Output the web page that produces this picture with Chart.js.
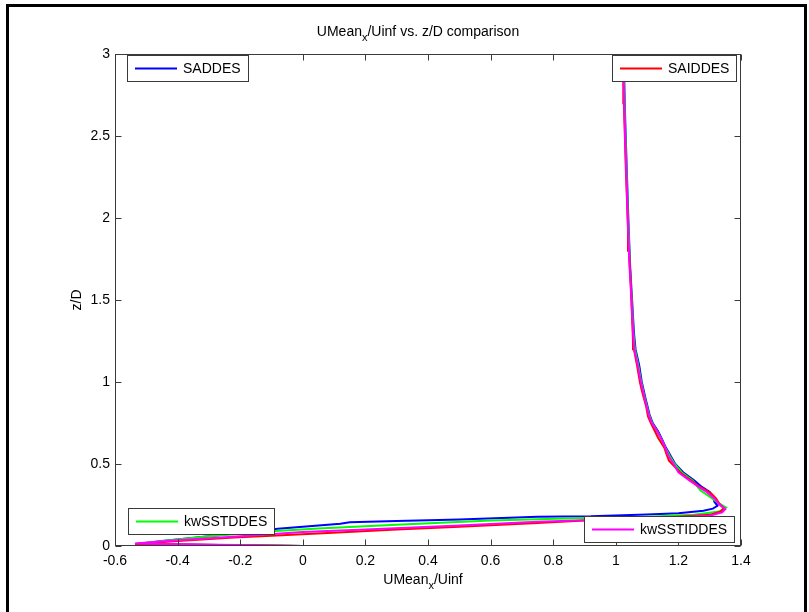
<!DOCTYPE html>
<html>
<head>
<meta charset="utf-8">
<script src="https://cdn.jsdelivr.net/npm/chart.js"></script>
<style>
    html, body { margin: 0; padding: 0; background: #fff; }
    #wrap { position: relative; width: 809px; height: 612px; overflow: hidden; }
    #frame { position: absolute; left: 6px; top: 4px; width: 795px; height: 640px; border: 3px solid #000; box-sizing: content-box; }
    canvas { position: absolute; left: 0; top: 0; }
</style>
</head>
<body>
<div id="wrap">
    <div id="frame"></div>
    <canvas id="chart1" width="809" height="612"></canvas>
</div>
<script>
// tick labels
const xTicks = [-0.6, -0.4, -0.2, 0, 0.2, 0.4, 0.6, 0.8, 1, 1.2, 1.4];
const yTicks = [0, 0.5, 1, 1.5, 2, 2.5, 3];

const seriesNames = ['SADDES', 'SAIDDES', 'kwSSTDDES', 'kwSSTIDDES'];

// SADDES (blue)
const uSADDES = [0, -0.536, -0.45, -0.3, -0.15, -0.08, 0.05, 0.12, 0.15, 0.3, 0.5, 0.75, 0.92, 1.1, 1.2, 1.28, 1.31, 1.325, 1.315, 1.31, 1.3, 1.275, 1.25, 1.215, 1.19, 1.175, 1.16, 1.148, 1.135, 1.118, 1.108, 1.095, 1.083, 1.075, 1.063, 1.058, 1.052, 1.046, 1.04, 1.035, 1.03, 1.025];
const zSADDES = [0, 0.01, 0.03, 0.06, 0.09, 0.105, 0.125, 0.135, 0.145, 0.152, 0.162, 0.178, 0.181, 0.192, 0.2, 0.215, 0.228, 0.245, 0.27, 0.3, 0.33, 0.36, 0.4, 0.45, 0.5, 0.55, 0.6, 0.65, 0.7, 0.75, 0.8, 0.9, 1.0, 1.1, 1.2, 1.3, 1.5, 1.7, 2.0, 2.3, 2.6, 3.0];

// SAIDDES (red)
const uSAIDDES = [0, -0.536, -0.4, -0.22, -0.1, 0.08, 0.3, 0.5, 0.75, 0.9, 1.0, 1.2, 1.3, 1.335, 1.345, 1.33, 1.32, 1.305, 1.28, 1.26, 1.24, 1.225, 1.205, 1.19, 1.17, 1.162, 1.155, 1.145, 1.135, 1.125, 1.112, 1.103, 1.097, 1.09, 1.083, 1.077, 1.068, 1.058, 1.055, 1.054, 1.051, 1.048, 1.042, 1.039, 1.036, 1.032, 1.029, 1.026, 1.024, 1.023];
const zSAIDDES = [0, 0.012, 0.03, 0.052, 0.062, 0.079, 0.1, 0.118, 0.14, 0.155, 0.162, 0.178, 0.19, 0.21, 0.23, 0.26, 0.29, 0.32, 0.35, 0.37, 0.4, 0.42, 0.45, 0.48, 0.52, 0.56, 0.6, 0.63, 0.66, 0.7, 0.75, 0.79, 0.85, 0.9, 0.95, 1.0, 1.1, 1.2, 1.24, 1.3, 1.44, 1.6, 1.8, 1.93, 2.1, 2.3, 2.5, 2.7, 2.9, 3.0];

// kwSSTDDES (green)
const uKwSSTDDES = [0, -0.536, -0.4, -0.3, -0.1, 0.05, 0.3, 0.6, 0.9, 1.1, 1.25, 1.33, 1.352, 1.33, 1.3, 1.27, 1.245, 1.21, 1.188, 1.172, 1.158, 1.146, 1.132, 1.116, 1.106, 1.093, 1.081, 1.072, 1.061, 1.056, 1.051, 1.045, 1.039, 1.034, 1.029, 1.024];
const zKwSSTDDES = [0, 0.012, 0.04, 0.06, 0.09, 0.107, 0.13, 0.155, 0.17, 0.178, 0.19, 0.21, 0.235, 0.26, 0.3, 0.34, 0.4, 0.45, 0.5, 0.55, 0.6, 0.65, 0.7, 0.75, 0.8, 0.9, 1.0, 1.1, 1.2, 1.3, 1.5, 1.7, 2.0, 2.3, 2.6, 3.0];

// kwSSTIDDES (magenta)
const uKwSSTIDDES = [0, -0.536, -0.4, -0.2, 0.0, 0.2, 0.5, 0.75, 0.95, 1.15, 1.3, 1.34, 1.35, 1.33, 1.315, 1.29, 1.265, 1.235, 1.2, 1.185, 1.168, 1.158, 1.146, 1.132, 1.115, 1.105, 1.092, 1.08, 1.07, 1.059, 1.055, 1.05, 1.044, 1.038, 1.033, 1.028, 1.023];
const zKwSSTIDDES = [0, 0.015, 0.035, 0.06, 0.085, 0.1, 0.125, 0.148, 0.16, 0.172, 0.185, 0.205, 0.225, 0.255, 0.29, 0.33, 0.36, 0.4, 0.45, 0.5, 0.55, 0.6, 0.65, 0.7, 0.75, 0.8, 0.9, 1.0, 1.1, 1.2, 1.3, 1.5, 1.7, 2.0, 2.3, 2.6, 3.0];

(function() {
    const FONT = '"Liberation Sans", Arial, Helvetica, sans-serif';
    const AXIS_COLOR = '#3a3a3a';
    const FONT_SIZE = 14;

    function toPoints(u, z) {
        return u.map((v, i) => ({ x: v, y: z[i] }));
    }

    function makeDataset(label, u, z, color) {
        return {
            label,
            data: toPoints(u, z),
            showLine: true,
            borderColor: color,
            backgroundColor: color,
            borderWidth: 2,
            pointRadius: 0,
            tension: 0
        };
    }

    // text with a subscript part, centred on cx
    function drawSubText(ctx, parts, cx, baseline, size) {
        ctx.save();
        ctx.textBaseline = 'alphabetic';
        ctx.textAlign = 'left';
        const mainFont = size + 'px ' + FONT;
        const subFont = (size - 3) + 'px ' + FONT;
        let total = 0;
        parts.forEach(p => {
            ctx.font = p.sub ? subFont : mainFont;
            total += ctx.measureText(p.text).width;
        });
        let x = cx - total / 2;
        parts.forEach(p => {
            ctx.font = p.sub ? subFont : mainFont;
            ctx.fillText(p.text, x, p.sub ? baseline + 5 : baseline);
            x += ctx.measureText(p.text).width;
        });
        ctx.restore();
    }

    function drawLegendBox(ctx, ds, x, y, anchorRight) {
        ctx.save();
        ctx.font = FONT_SIZE + 'px ' + FONT;
        const textW = ctx.measureText(ds.label).width;
        const w = Math.round(56 + textW + 7);
        const h = 26;
        const left = Math.round(anchorRight ? x - w : x);
        ctx.fillStyle = '#fff';
        ctx.fillRect(left, y, w, h);
        ctx.strokeStyle = AXIS_COLOR;
        ctx.lineWidth = 1;
        ctx.strokeRect(left + 0.5, Math.round(y) + 0.5, w, h);
        ctx.strokeStyle = ds.borderColor;
        ctx.lineWidth = 2;
        ctx.beginPath();
        ctx.moveTo(left + 8, y + h / 2 + 0.5);
        ctx.lineTo(left + 50, y + h / 2 + 0.5);
        ctx.stroke();
        ctx.fillStyle = '#000';
        ctx.textBaseline = 'middle';
        ctx.fillText(ds.label, left + 56, y + h / 2 + 1);
        ctx.restore();
    }

    const matlabAxes = {
        id: 'matlabAxes',
        afterDatasetsDraw(chart) {
            const ctx = chart.ctx;
            const a = chart.chartArea;
            const xs = chart.scales.x;
            const ys = chart.scales.y;
            const L = Math.round(a.left) + 0.5, R = Math.round(a.right) - 0.5;
            const T = Math.round(a.top) + 0.5, B = Math.round(a.bottom) - 0.5;

            ctx.save();
            ctx.strokeStyle = AXIS_COLOR;
            ctx.lineWidth = 1;
            ctx.strokeRect(L, T, R - L, B - T);

            // inward ticks on all four sides
            ctx.beginPath();
            xTicks.forEach(v => {
                const px = Math.round(xs.getPixelForValue(v)) + 0.5;
                ctx.moveTo(px, B); ctx.lineTo(px, B - 6);
                ctx.moveTo(px, T); ctx.lineTo(px, T + 6);
            });
            yTicks.forEach(v => {
                const py = Math.round(ys.getPixelForValue(v)) + 0.5;
                ctx.moveTo(L, py); ctx.lineTo(L + 6, py);
                ctx.moveTo(R, py); ctx.lineTo(R - 6, py);
            });
            ctx.stroke();
            ctx.restore();

            // one legend box per series, one per corner
            const ds = chart.data.datasets;
            drawLegendBox(ctx, ds[0], a.left + 12, a.top + 1, false);
            drawLegendBox(ctx, ds[1], a.right - 5, a.top + 1, true);
            drawLegendBox(ctx, ds[2], a.left + 13, a.bottom - 38, false);
            drawLegendBox(ctx, ds[3], a.right - 7, a.bottom - 30, true);

            // titles
            ctx.fillStyle = '#000';
            drawSubText(ctx, [{ text: 'UMean' }, { text: 'x', sub: true }, { text: '/Uinf vs. z/D comparison' }], 418, 36, FONT_SIZE);
            drawSubText(ctx, [{ text: 'UMean' }, { text: 'x', sub: true }, { text: '/Uinf' }], 423, 584, FONT_SIZE);

            ctx.save();
            ctx.translate(81, (a.top + a.bottom) / 2);
            ctx.rotate(-Math.PI / 2);
            ctx.font = FONT_SIZE + 'px ' + FONT;
            ctx.textAlign = 'center';
            ctx.textBaseline = 'alphabetic';
            ctx.fillText('z/D', 0, 0);
            ctx.restore();
        }
    };

    const data = {
        datasets: [
            makeDataset(seriesNames[0], uSADDES, zSADDES, '#0000ff'),
            makeDataset(seriesNames[1], uSAIDDES, zSAIDDES, '#ff0000'),
            makeDataset(seriesNames[2], uKwSSTDDES, zKwSSTDDES, '#00ff00'),
            makeDataset(seriesNames[3], uKwSSTIDDES, zKwSSTIDDES, '#ff00ff')
        ]
    };
    // magenta and red end up on top, as in the reference
    data.datasets[0].order = 4;
    data.datasets[2].order = 3;
    data.datasets[1].order = 2;
    data.datasets[3].order = 1;

    const tickFont = { family: FONT, size: FONT_SIZE };

    const options = {
        responsive: false,
        animation: false,
        layout: { padding: { left: 0, right: 68, top: 54, bottom: 0 } },
        plugins: {
            legend: { display: false },
            tooltip: { enabled: false }
        },
        scales: {
            x: {
                type: 'linear',
                min: -0.6,
                max: 1.4,
                grid: { display: false, drawTicks: false },
                border: { display: false },
                afterBuildTicks: s => { s.ticks = xTicks.map(v => ({ value: v })); },
                afterFit: s => { s.height = 66; },
                ticks: { color: '#000', font: tickFont, padding: 7, maxRotation: 0, autoSkip: false, callback: v => String(v) }
            },
            y: {
                type: 'linear',
                min: 0,
                max: 3,
                grid: { display: false, drawTicks: false },
                border: { display: false },
                afterBuildTicks: s => { s.ticks = yTicks.map(v => ({ value: v })); },
                afterFit: s => { s.width = 115; },
                ticks: { color: '#000', font: tickFont, padding: 5, autoSkip: false, callback: v => String(v) }
            }
        }
    };

    new Chart('chart1', { type: 'scatter', data, options, plugins: [matlabAxes] });
})();
</script>
</body>
</html>
